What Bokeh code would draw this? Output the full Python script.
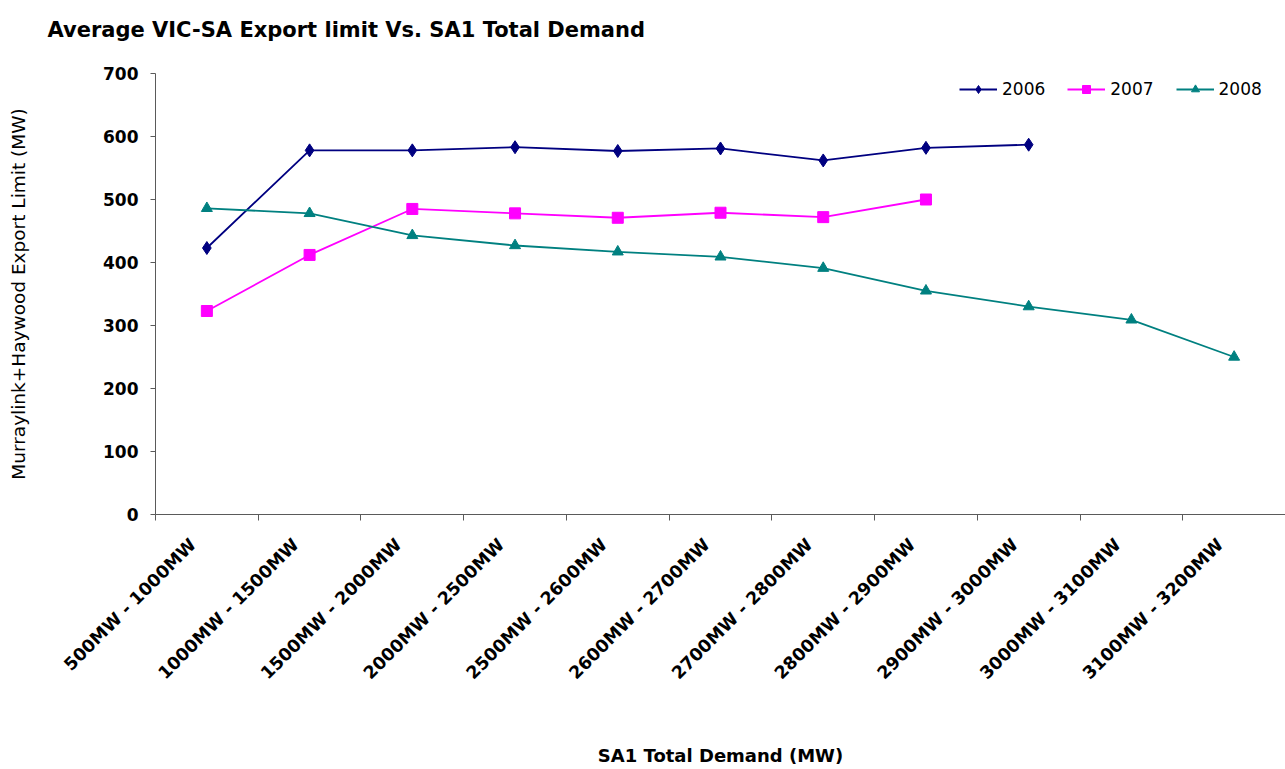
import math
from bokeh.plotting import figure
from bokeh.models import Range1d, FixedTicker, Legend, LegendItem, Title
from bokeh.embed import file_html
from bokeh.resources import INLINE

# Demand bands (SA1 total demand)
demand_bands = [
    "500MW - 1000MW", "1000MW - 1500MW", "1500MW - 2000MW", "2000MW - 2500MW",
    "2500MW - 2600MW", "2600MW - 2700MW", "2700MW - 2800MW", "2800MW - 2900MW",
    "2900MW - 3000MW", "3000MW - 3100MW", "3100MW - 3200MW",
]

# Average Murraylink + Heywood export limit (MW) per band
limit_2006 = [423, 578, 578, 583, 577, 581, 562, 582, 587]
limit_2007 = [323, 412, 485, 478, 471, 479, 472, 500]
limit_2008 = [486, 478, 443, 427, 417, 409, 391, 355, 330, 309, 250]

y_ticks = [0, 100, 200, 300, 400, 500, 600, 700]

FONT = "DejaVu Sans"

n = len(demand_bands)
centres = [i + 0.5 for i in range(n)]

p = figure(
    width=1285, height=769,
    x_range=Range1d(0, n), y_range=Range1d(0, 700),
    output_backend="svg", toolbar_location=None,
    min_border_left=155, min_border_right=0,
    min_border_top=73, min_border_bottom=254,
)
p.outline_line_color = None
p.xgrid.visible = False
p.ygrid.visible = False
p.background_fill_color = "white"
p.border_fill_color = "white"

# blank spacer between the title and the plot area
p.add_layout(Title(text=" ", text_font_size="2px", standoff=15), "above")

p.title.text = "Average VIC-SA Export limit Vs. SA1 Total Demand"
p.title.text_font = FONT
p.title.text_font_size = "21px"
p.title.text_font_style = "bold"
p.title.text_color = "black"
p.title.offset = -108
p.title.standoff = 26

axis_color = "#5a5a5a"

# x axis: band labels near band centres, tick marks on band boundaries
xa = p.xaxis[0]
label_pos = [c - 0.135 for c in centres]
xa.ticker = FixedTicker(ticks=label_pos, minor_ticks=list(range(n + 1)))
xa.major_label_overrides = {lp: lab for lp, lab in zip(label_pos, demand_bands)}
xa.major_label_orientation = math.pi / 4
xa.major_tick_line_color = None
xa.minor_tick_in = 0
xa.minor_tick_out = 6
xa.minor_tick_line_color = axis_color
xa.axis_line_color = axis_color
xa.major_label_standoff = 21
xa.major_label_text_font = FONT
xa.major_label_text_font_style = "bold"
xa.major_label_text_font_size = "17.5px"
xa.major_label_text_color = "black"
xa.axis_label = "SA1 Total Demand (MW)"
xa.axis_label_text_font = FONT
xa.axis_label_text_font_style = "bold"
xa.axis_label_text_font_size = "18px"
xa.axis_label_text_color = "black"
xa.axis_label_standoff = 52

ya = p.yaxis[0]
ya.ticker = FixedTicker(ticks=y_ticks, minor_ticks=[])
ya.major_tick_in = 0
ya.major_tick_out = 5
ya.major_tick_line_color = axis_color
ya.axis_line_color = axis_color
ya.major_label_standoff = 12
ya.major_label_text_font = FONT
ya.major_label_text_font_style = "bold"
ya.major_label_text_font_size = "17px"
ya.major_label_text_color = "black"
ya.axis_label = "Murraylink+Haywood Export Limit (MW)"
ya.axis_label_text_font = FONT
ya.axis_label_text_font_style = "normal"
ya.axis_label_text_font_size = "18.5px"
ya.axis_label_text_color = "black"
ya.axis_label_standoff = 71

series = [
    ("2006", limit_2006, "#000080", "diamond", 13),
    ("2007", limit_2007, "#FF00FF", "square", 11),
    ("2008", limit_2008, "#008080", "triangle", 11),
]

items = []
for name, vals, color, marker, size in series:
    xs = centres[:len(vals)]
    ln = p.line(xs, vals, line_color=color, line_width=1.8)
    mk = p.scatter(xs, vals, marker=marker, size=size,
                   fill_color=color, line_color=color)
    items.append(LegendItem(label=name, renderers=[ln, mk]))

# legend: bottom-left corner given in pixels from the plot area's bottom-left
legend = Legend(items=items, orientation="horizontal", location=(804, 415))
legend.border_line_color = None
legend.background_fill_alpha = 0
legend.label_text_font = FONT
legend.label_text_font_size = "17px"
legend.label_text_color = "black"
legend.glyph_width = 38
legend.spacing = 22
legend.padding = 4
legend.margin = 0
legend.label_standoff = 5
p.add_layout(legend)

open("out.html", "w").write(file_html(p, INLINE))
